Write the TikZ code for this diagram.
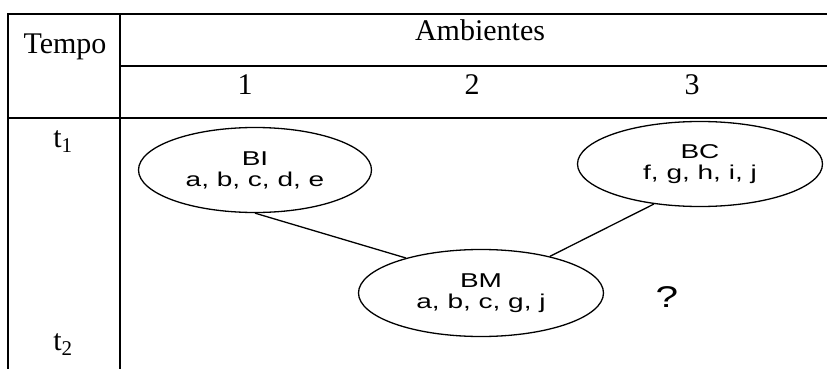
\documentclass[tikz,border=0pt]{standalone}
\usepackage{fontspec}
\usepackage{graphicx}
\setmainfont{Liberation Serif}
\setsansfont{Liberation Sans}
\usetikzlibrary{shapes.geometric}
\newcommand{\stretchtxt}[1]{\scalebox{1.4}[1]{#1}}
\tikzset{
  grid/.style={line width=2.2pt, line cap=rect},
  serif/.style={font=\fontsize{30}{32}\selectfont, inner sep=0pt, anchor=base},
  bubble/.style={draw, ellipse, line width=1.3pt, inner sep=0pt, align=center,
    font=\sffamily\fontsize{20}{21}\selectfont},
  link/.style={line width=1.3pt}
}
\begin{document}
\begin{tikzpicture}[x=1pt,y=-1pt]
\useasboundingbox (0,0) rectangle (827,369);
% table rules
\draw[grid] (8,369) -- (8,14) -- (827,14);
\draw[grid] (120,14) -- (120,369);
\draw[grid] (120,66) -- (827,66);
\draw[grid] (8,118) -- (827,118);
% header texts
\node[serif] (tempo) at (65,53) {Tempo};
\node[serif] (amb) at (480,41) {Ambientes};
\node[serif] (c1) at (245,95) {1};
\node[serif] (c2) at (472,95) {2};
\node[serif] (c3) at (692,95) {3};
\node[serif] (t1) at (63,147) {t\textsubscript{1}};
\node[serif] (t2) at (63,350) {t\textsubscript{2}};
% ellipses
\node[bubble, minimum width=233pt, minimum height=85pt] (BI) at (255,170)
  {\stretchtxt{BI}\\\stretchtxt{a, b, c, d, e}};
\node[bubble, minimum width=245pt, minimum height=87pt] (BM) at (481,293)
  {\stretchtxt{BM}\\\stretchtxt{a, b, c, g, j}};
\node[bubble, minimum width=245pt, minimum height=85pt] (BC) at (700,164)
  {\stretchtxt{BC}\\\stretchtxt{f, g, h, i, j}};
\node[font=\sffamily\fontsize{30}{32}\selectfont, inner sep=0pt] (q) at (667,297)
  {\scalebox{1.35}[1]{?}};
% connectors
\draw[link] (BI.south) -- (BM.155);
\draw[link] (BC.221) -- (BM.28);
\end{tikzpicture}
\end{document}
